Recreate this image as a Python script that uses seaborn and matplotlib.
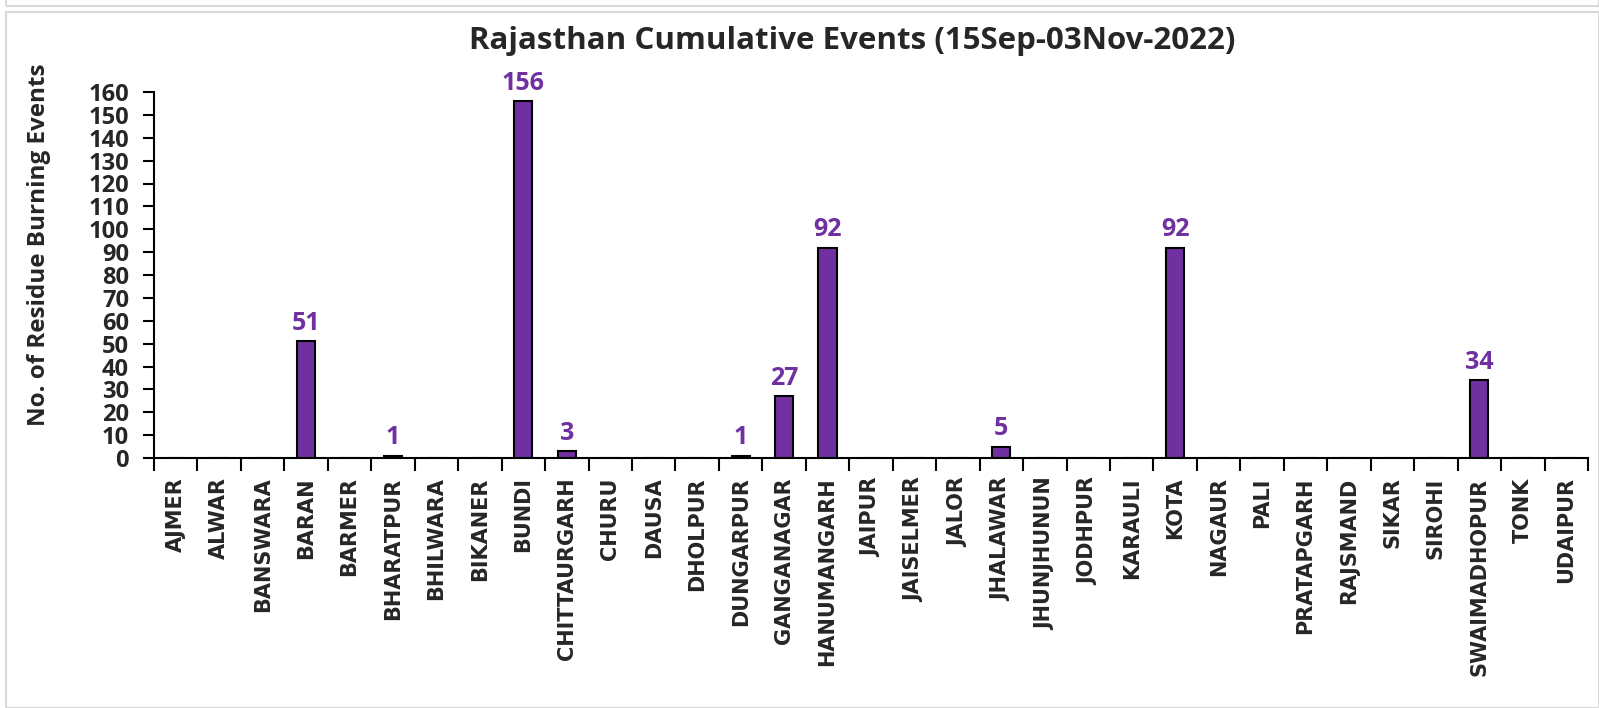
import matplotlib
matplotlib.use("Agg")
import matplotlib.pyplot as plt
from matplotlib import font_manager
import seaborn as sns
import numpy as np
import pandas as pd
from matplotlib.patches import Rectangle

districts = ["AJMER", "ALWAR", "BANSWARA", "BARAN", "BARMER", "BHARATPUR", "BHILWARA",
             "BIKANER", "BUNDI", "CHITTAURGARH", "CHURU", "DAUSA", "DHOLPUR", "DUNGARPUR",
             "GANGANAGAR", "HANUMANGARH", "JAIPUR", "JAISELMER", "JALOR", "JHALAWAR",
             "JHUNJHUNUN", "JODHPUR", "KARAULI", "KOTA", "NAGAUR", "PALI", "PRATAPGARH",
             "RAJSMAND", "SIKAR", "SIROHI", "SWAIMADHOPUR", "TONK", "UDAIPUR"]
events = [0, 0, 0, 51, 0, 1, 0, 0, 156, 3, 0, 0, 0, 1, 27, 92, 0, 0, 0, 5,
          0, 0, 0, 92, 0, 0, 0, 0, 0, 0, 34, 0, 0]
yticks = list(range(0, 161, 10))


def has_bold(name):
    for f in font_manager.fontManager.ttflist:
        if f.name == name:
            w = f.weight
            if isinstance(w, str):
                if "bold" in w.lower() or "heavy" in w.lower() or "black" in w.lower():
                    return True
            elif w >= 600:
                return True
    return False


main_font = "DejaVu Sans"
for cand in ["Open Sans", "Noto Sans", "Roboto", "Lato", "Liberation Sans"]:
    if has_bold(cand):
        main_font = cand
        break

sns.set_theme(style="white")
plt.rcParams['font.family'] = [main_font, 'DejaVu Sans']
plt.rcParams['font.weight'] = 'bold'

W, H = 1599, 708
fig = plt.figure(figsize=(W / 100, H / 100), dpi=100)
ax = fig.add_axes([154 / W, 1 - 458 / H, (1588 - 154) / W, (458 - 92) / H])

df = pd.DataFrame({"district": districts, "events": events})
sns.barplot(data=df, x="district", y="events", order=districts, color="#7030A0",
            edgecolor="black", linewidth=1.5, width=0.42, saturation=1, ax=ax)

labels = [str(v) if v > 0 else "" for v in events]
ax.bar_label(ax.containers[0], labels=labels, padding=4, color="#7030A0",
             fontsize=18, fontweight="bold")

ax.set_ylim(0, 160)
ax.set_xlim(-0.5, len(districts) - 0.5)
ax.set_yticks(yticks)
ax.set_yticklabels([str(t) for t in yticks], fontsize=17, fontweight="bold")
ax.set_xticks(range(len(districts)))
ax.set_xticklabels(districts, rotation=90, fontsize=15, fontweight="bold",
                   family=["DejaVu Sans"])
ax.set_xticks(np.arange(-0.5, len(districts), 1), minor=True)
ax.tick_params(axis="x", which="major", length=0, pad=14)
ax.tick_params(axis="x", which="minor", length=9, width=1.5, color="black", direction="out", bottom=True)
ax.tick_params(axis="y", length=8, width=1.5, color="black", direction="out", left=True, pad=10)
ax.set_xlabel("")
ax.set_ylabel("")
for s in ["top", "right"]:
    ax.spines[s].set_visible(False)
for s in ["left", "bottom"]:
    ax.spines[s].set_color("black")
    ax.spines[s].set_linewidth(1.5)

fig.text(852 / W, 1 - 41 / H, "Rajasthan Cumulative Events (15Sep-03Nov-2022)",
         ha="center", va="center", fontsize=22.5, fontweight="bold")
fig.text(39 / W, 1 - 245 / H, "No. of Residue Burning Events", rotation=90,
         ha="center", va="center", fontsize=17.5, fontweight="bold")

# light gray frames
fig.patches.append(Rectangle((6 / W, 0), (W - 6) / W, (H - 12) / H, transform=fig.transFigure,
                             fill=False, edgecolor="#d9d9d9", linewidth=1.5))
fig.patches.append(Rectangle((6 / W, (H - 6) / H), (W - 6) / W, 8 / H, transform=fig.transFigure,
                             fill=False, edgecolor="#d9d9d9", linewidth=1.5))

fig.savefig("out.png", dpi=100)
